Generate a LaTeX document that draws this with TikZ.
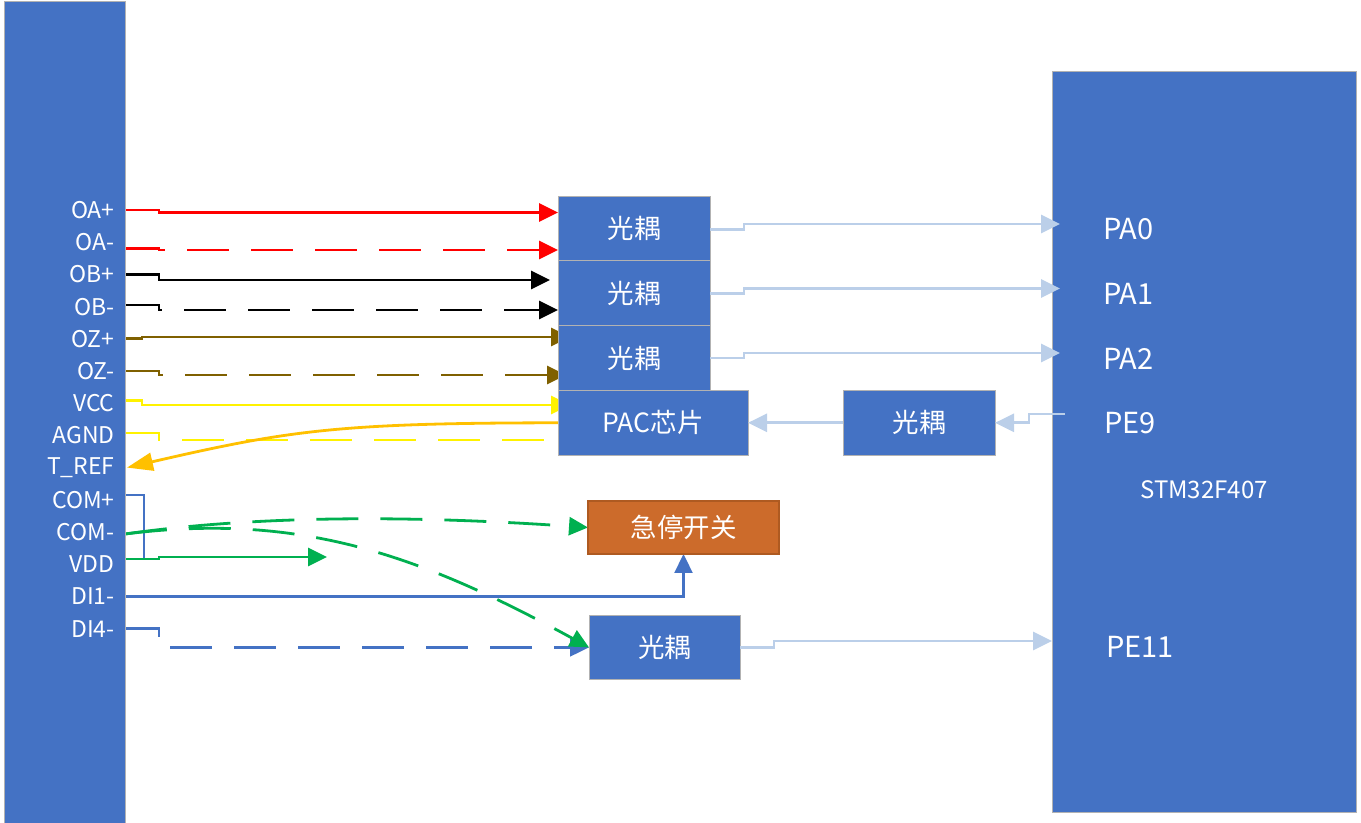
\documentclass[tikz,border=0pt]{standalone}
\usepackage{fontspec}
\setmainfont{Noto Sans CJK SC}
\usepackage{xcolor}
\usetikzlibrary{arrows.meta, positioning, backgrounds}
\definecolor{barblue}{HTML}{4472C4}
\definecolor{lightblue}{HTML}{BBCFE9}
\definecolor{wirebrown}{HTML}{7F6000}
\definecolor{wiregreen}{HTML}{00B050}
\definecolor{wireorange}{HTML}{FFC000}
\definecolor{stopfill}{HTML}{CC6B2B}
\definecolor{stopedge}{HTML}{AE5A21}

\begin{document}
\begin{tikzpicture}[
      x=0.5pt, y=-0.5pt, outer sep=0pt,
      bar/.style={draw=gray!60, line width=0.4pt, fill=barblue, inner sep=0pt},
      box/.style={bar, minimum width=76pt, minimum height=32.4pt, text=white, font=\fontsize{13.25}{15}\selectfont},
      lbl/.style={minimum height=16.1pt, inner ysep=0pt, inner xsep=5.2pt, text width=47pt, align=right, text=white, font=\fontsize{11.5}{12}\selectfont},
      pin/.style={anchor=west, inner xsep=21.5pt, inner ysep=0pt, text=white, font=\fontsize{14.5}{15}\selectfont},
      wire/.style={line width=1.4pt},
      arr/.style={wire, -{Triangle[length=9.5pt, width=9pt]}},
      gap/.style={dash pattern=on 21pt off 11pt},
      sig/.style={arr, line width=1.4pt, lightblue},
      thin/.style={line width=1.15pt, barblue}
    ]
    \useasboundingbox (0,0) rectangle (1361,823);

    % left connector and its pins
    \node[bar, anchor=north west, minimum width=60.5pt, minimum height=412pt] (drv) at (4,1) {};
    \node[lbl, anchor=east] (oap) at (125,210) {OA+};
    \node[lbl, below=0pt of oap] (oam) {OA-};
    \node[lbl, below=0pt of oam] (obp) {OB+};
    \node[lbl, below=0pt of obp] (obm) {OB-};
    \node[lbl, below=0pt of obm] (ozp) {OZ+};
    \node[lbl, below=0pt of ozp] (ozm) {OZ-};
    \node[lbl, below=0pt of ozm] (vcc) {VCC};
    \node[lbl, below=0pt of vcc] (agnd) {AGND};
    \node[lbl, below=0pt of agnd] (tref) {T\_REF};
    \node[lbl, below=0pt of tref] (comp) {COM+};
    \node[lbl, below=0pt of comp] (comm) {COM-};
    \node[lbl, below=0pt of comm] (vdd) {VDD};
    \node[lbl, below=0pt of vdd] (dia) {DI1-};
    \node[lbl, below=0pt of dia] (dib) {DI4-};

    % middle blocks
    \node[box, anchor=north west] (opta) at (558,196) {光耦};
    \node[box, below=0pt of opta] (optb) {光耦};
    \node[box, below=0pt of optb] (optc) {光耦};
    \node[box, below=0pt of optc.south west, anchor=north west, minimum width=95pt] (pac) {PAC芯片};
    \node[box, right=47.5pt of pac] (optd) {光耦};
    \node[box, anchor=north west, minimum width=95.5pt, minimum height=26.5pt, fill=stopfill, draw=stopedge, line width=0.9pt] (estop) at (588,501) {急停开关};
    \node[box, anchor=north west, minimum width=75.5pt] (opte) at (589,615) {光耦};

    % MCU
    \node[bar, anchor=north west, minimum width=152pt, minimum height=370.5pt] (mcu) at (1052,71) {};
    \node[pin] (pa0) at (1060,229) {PA0};
    \node[pin] (pa1) at (1060,294) {PA1};
    \node[pin] (pa2) at (1060,359) {PA2};
    \node[pin] (pe9) at (1061,423) {PE9};
    \node[pin] (pe11) at (1063,647) {PE11};
    \node[text=white, font=\fontsize{12}{14}\selectfont] (chip) at (1204,490) {STM32F407};
    \coordinate (vddend) at (327,557);

    \begin{pgfonlayer}{background}
      \draw[arr, red] (oap.east) -- ++(34,0) |- ([yshift=7.95pt]opta.west);
      \draw[arr, gap, red] ([yshift=-3pt]oam.east) -- ++(34,0) |- ([yshift=-10.8pt]opta.west);
      \draw[arr, black] (obp.east) -- ++(34,0) |- ([xshift=-4pt,yshift=6.6pt]optb.west);
      \draw[arr, gap, black] ([yshift=0.75pt]obm.east) -- ++(34,0) |- ([yshift=-8.4pt]optb.west);
      \draw[arr, wirebrown] (ozp.east) -- ++(17,0) |- ([xshift=6pt,yshift=10.5pt]optc.west);
      \draw[arr, gap, wirebrown] (ozm.east) -- ++(34,0) |- ([xshift=4pt,yshift=-8.5pt]optc.west);
      \draw[arr, yellow] ([yshift=1.5pt]vcc.east) -- ++(17,0) |- ([xshift=6pt,yshift=8.9pt]pac.west);
      \draw[wire, gap, yellow] ([yshift=1.2pt]agnd.east) -- ++(34,0) |- ([yshift=-8.6pt]pac.west);
      \draw[wire, wireorange, -{Triangle[length=13pt, width=9pt]}] (pac.west) .. controls (340,423) and (290,430) .. ([xshift=1pt]tref.east);
      \draw[thin] ([yshift=2.4pt]comp.east) -- ++(19,0) |- ([yshift=2.6pt]vdd.east);
      \draw[arr, gap, wiregreen] ([yshift=-1pt]comm.east) .. controls (280,512) and (450,518) .. (estop.west);
      \draw[thin, -{Triangle[length=9.5pt, width=9pt]}] (dia.east) -| (estop.south);
      \draw[thin, gap, -{Triangle[length=9.5pt, width=9pt]}] (dib.east) -- ++(34,0) |- (opte.west);
      \draw[arr, gap, wiregreen] ([yshift=-1pt]comm.east) .. controls (300,512) and (420,555) .. (opte.west);
      \draw[arr, wiregreen] ([yshift=2.6pt]vdd.east) -- ++(34,0) |- (vddend);
    \end{pgfonlayer}

    \draw[sig] (opta.east) ++(0,1) -- ++(34,0) |- ([yshift=2.5pt]pa0.west);
    \draw[sig] (optb.east) -- ++(34,0) |- ([yshift=2.75pt]pa1.west);
    \draw[sig] (optc.east) -- ++(34,0) |- ([yshift=3pt]pa2.west);
    \draw[sig] (optd) -- (pac);
    \draw[sig] ([xshift=2pt,yshift=4.5pt]pe9.west) -- ++(-36,0) |- (optd.east);
    \draw[sig] (opte.east) -- ++(34,0) |- ([xshift=-5.5pt,yshift=3pt]pe11.west);
  \end{tikzpicture}
\end{document}
